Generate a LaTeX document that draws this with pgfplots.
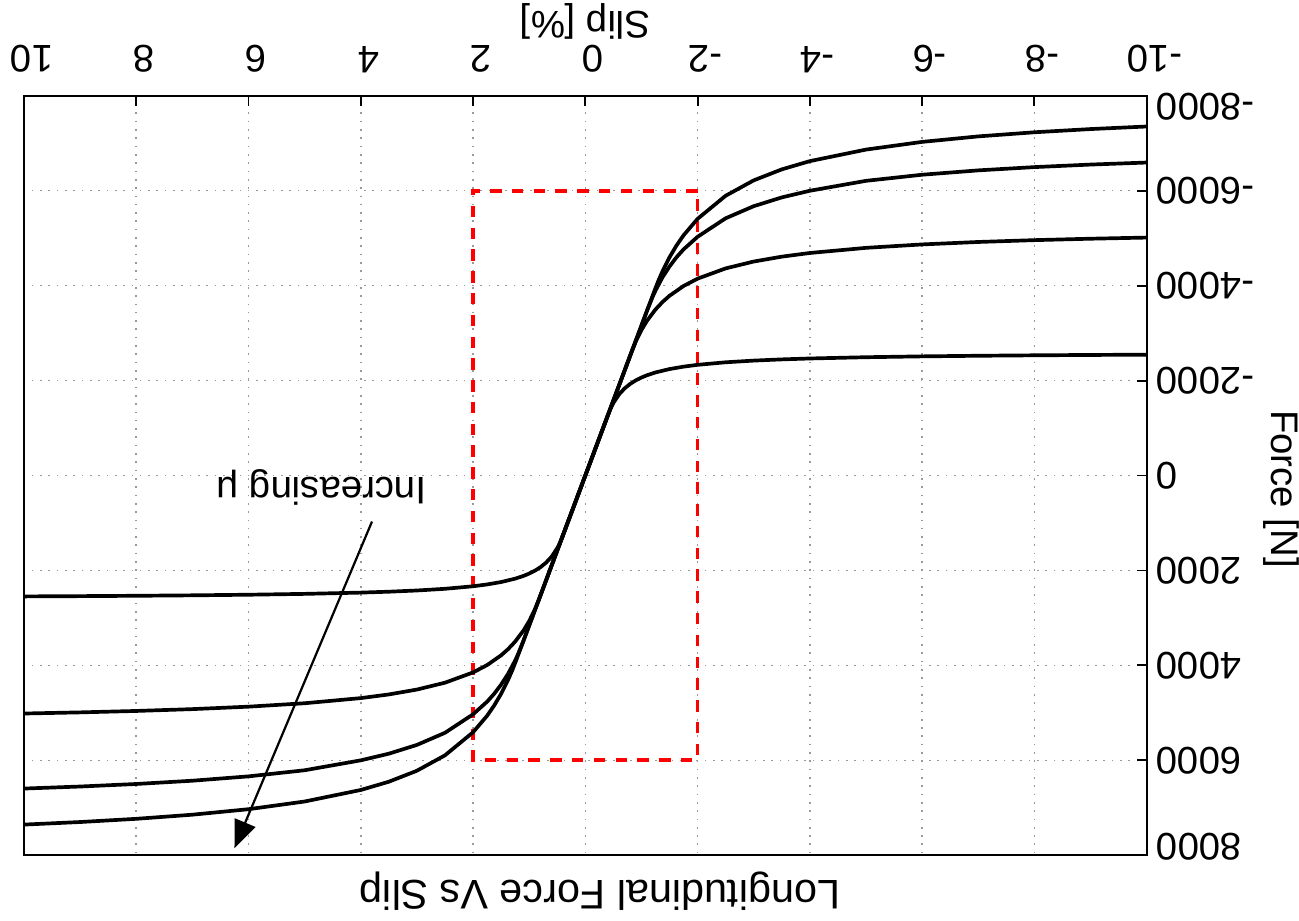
\documentclass[border=0pt]{standalone}
\usepackage{fontspec}
\setmainfont{Liberation Sans}
\usepackage{pgfplots}
\pgfplotsset{compat=1.18}
\usetikzlibrary{arrows.meta}

\begin{document}
\begin{tikzpicture}[font=\fontsize{10.4}{12}\selectfont]
\begin{axis}[
  scale only axis,
  width=10.6875cm, height=7.2295cm,
  xmin=-10, xmax=10, ymin=-8000, ymax=8000,
  x dir=reverse, y dir=reverse,
  xtick={-10,-8,...,10}, ytick={-8000,-6000,...,8000},
  yticklabels={,-6000,-4000,-2000,0,2000,4000,6000,},
  xtick pos=right, ytick pos=right,
  xticklabel pos=right, yticklabel pos=right,
  tick align=inside, major tick length=0.095cm,
  scaled y ticks=false,
  /pgf/number format/assume math mode=true,
  /pgf/number format/1000 sep={},
  xticklabel style={inner sep=0pt, xshift=2.1pt, yshift=6.1pt, rotate=180, anchor=north},
  yticklabel style={xshift=-1pt, rotate=180, anchor=east},
  grid=major,
  grid style={gray!80, line width=0.4pt, dash pattern=on 0.45pt off 1.8pt},
  axis line style={line width=0.6pt},
  every tick/.style={black, line width=0.5pt},
  clip=false,
]
% red window around the linear region
\addplot[red, line width=1pt, dash pattern=on 3.1pt off 2.8pt] coordinates {
  (-2,-6000) (2,-6000) (2,6000) (-2,6000) (-2,-6000)
};
% force curves, lowest friction first
\addplot[black, line width=1pt] coordinates {
  (-10,-2546.5) (-9,-2540.6) (-8,-2533.1) (-7,-2523.6) (-6,-2510.9) (-5,-2493)
  (-4,-2466.3) (-3.5,-2447.2) (-3,-2421.7) (-2.5,-2386.1) (-2,-2332.6)
  (-1.75,-2294.4) (-1.5,-2243.5) (-1.25,-2172.2) (-1.1,-2113.8) (-1,-2065.2)
  (-0.9,-2005.8) (-0.8,-1931.5) (-0.7,-1836) (-0.6,-1708.7) (-0.5,-1530.4)
  (-0.45,-1411.6) (-0.4114,-1300) (0,0) (0.4114,1300) (0.45,1411.6)
  (0.5,1530.4) (0.6,1708.7) (0.7,1836) (0.8,1931.5) (0.9,2005.8) (1,2065.2)
  (1.1,2113.8) (1.25,2172.2) (1.5,2243.5) (1.75,2294.4) (2,2332.6)
  (2.5,2386.1) (3,2421.7) (3.5,2447.2) (4,2466.3) (5,2493) (6,2510.9)
  (7,2523.6) (8,2533.1) (9,2540.6) (10,2546.5)
};
\addplot[black, line width=1pt] coordinates {
  (-10,-5013.6) (-9,-4989.6) (-8,-4959.5) (-7,-4920.9) (-6,-4869.3) (-5,-4797.2)
  (-4,-4689) (-3.5,-4611.7) (-3,-4508.7) (-2.5,-4364.4) (-2,-4148)
  (-1.75,-3993.4) (-1.5,-3787.3) (-1.375,-3656.2) (-1.25,-3498.8)
  (-1.1,-3262.7) (-1,-3066) (-0.9,-2825.6) (-0.8275,-2615) (0,0)
  (0.8275,2615) (0.9,2825.6) (1,3066) (1.1,3262.7) (1.25,3498.8)
  (1.375,3656.2) (1.5,3787.3) (1.75,3993.4) (2,4148) (2.5,4364.4)
  (3,4508.7) (3.5,4611.7) (4,4689) (5,4797.2) (6,4869.3) (7,4920.9)
  (8,4959.5) (9,4989.6) (10,5013.6)
};
\addplot[black, line width=1pt] coordinates {
  (-10,-6594.5) (-9,-6551.7) (-8,-6498.2) (-7,-6429.4) (-6,-6337.6) (-5,-6209.1)
  (-4,-6000) (-3.5,-5860) (-3,-5675) (-2.5,-5420) (-2,-5030)
  (-1.75,-4765) (-1.625,-4600) (-1.5,-4405) (-1.375,-4176.7) (-1.25,-3896.4)
  (-1.2,-3767.9) (-1.1044,-3490) (0,0) (1.1044,3490) (1.2,3767.9)
  (1.25,3896.4) (1.375,4176.7) (1.5,4405) (1.625,4600) (1.75,4765)
  (2,5030) (2.5,5420) (3,5675) (3.5,5860) (4,6000) (5,6209.1)
  (6,6337.6) (7,6429.4) (8,6498.2) (9,6551.7) (10,6594.5)
};
\addplot[black, line width=1pt] coordinates {
  (-10,-7353.7) (-9,-7299.7) (-8,-7232.1) (-7,-7145.3) (-6,-7029.5) (-5,-6867.4)
  (-4,-6624.3) (-3.5,-6450.6) (-3,-6219.1) (-2.5,-5894.9) (-2,-5408.6)
  (-1.75,-5061.3) (-1.625,-4847.5) (-1.5,-4598.1) (-1.375,-4303.4)
  (-1.3,-4099.4) (-1.2405,-3920) (0,0) (1.2405,3920) (1.3,4099.4)
  (1.375,4303.4) (1.5,4598.1) (1.625,4847.5) (1.75,5061.3) (2,5408.6)
  (2.5,5894.9) (3,6219.1) (3.5,6450.6) (4,6624.3) (5,6867.4) (6,7029.5)
  (7,7145.3) (8,7232.1) (9,7299.7) (10,7353.7)
};
\draw[black, line width=0.6pt, -{Triangle[length=7.5pt,width=6pt]}]
  (axis cs:3.8,970) -- (axis cs:6.25,7850);
\node[rotate=180] at (axis cs:4.7,250) {Increasing μ};
\end{axis}
% end tick labels, set a little inside the box as in the original
\node[rotate=180, anchor=east, inner sep=0pt]
  at ([xshift=0.0855cm, yshift=-0.105cm]current axis.north east) {-8000};
\node[rotate=180, anchor=east, inner sep=0pt]
  at ([xshift=0.0855cm, yshift=0.08cm]current axis.south east) {8000};
% axis texts, turned upside down like the rest of the figure
\node[rotate=180, anchor=north, inner sep=0pt]
  at ([yshift=0.535cm]current axis.north) {Slip [\%]};
\node[rotate=-90, anchor=south, inner sep=0pt]
  at ([xshift=1.102cm, yshift=-0.128cm]current axis.east) {Force [N]};
\node[rotate=180, anchor=south, inner sep=0pt, font=\fontsize{11.2}{13}\selectfont]
  at ([xshift=0.138cm, yshift=-0.152cm]current axis.south) {Longitudinal Force Vs Slip};
\path ([xshift=-0.228cm, yshift=-0.6175cm]current axis.south west)
  rectangle ([xshift=1.425cm, yshift=0.912cm]current axis.north east);
\end{tikzpicture}
\end{document}
